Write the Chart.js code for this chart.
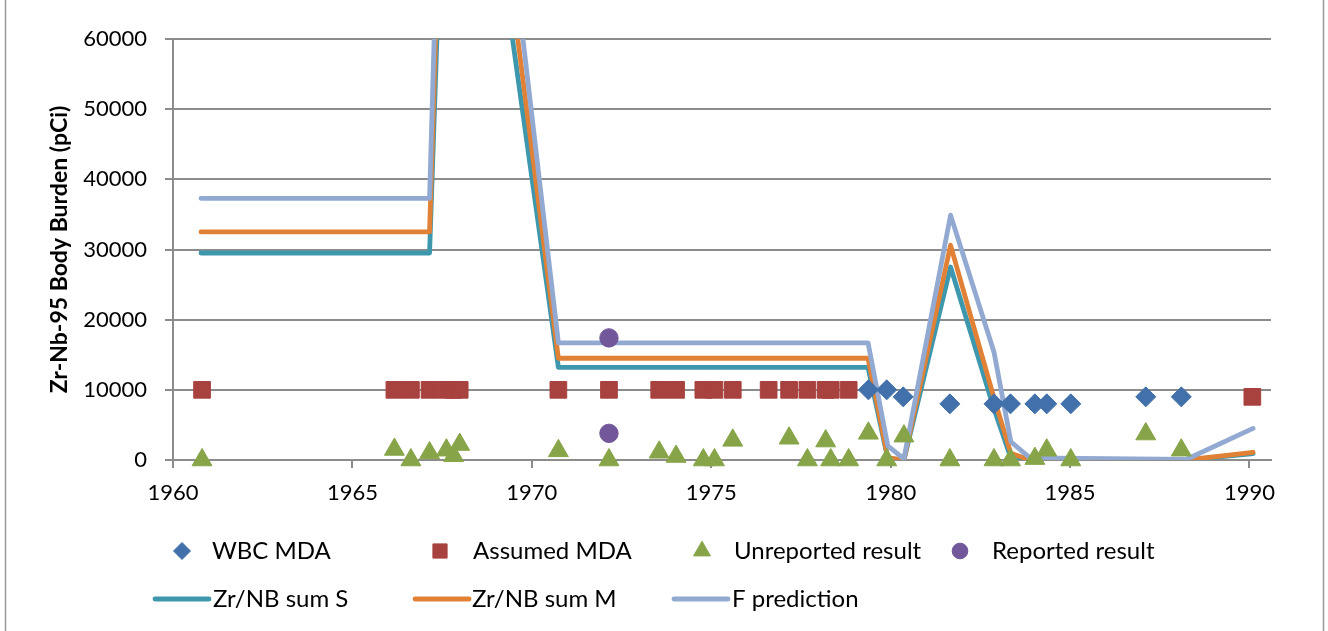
<!DOCTYPE html>
<html>
<head>
<meta charset="utf-8">
<script src="https://cdn.jsdelivr.net/npm/chart.js@4/dist/chart.umd.min.js"></script>
<style>
  html, body { margin: 0; padding: 0; background: #ffffff; }
  #wrap { width: 1328px; height: 631px; position: relative; }
</style>
</head>
<body>
<div id="wrap"><canvas id="chart" width="1328" height="631"></canvas></div>
<script>
// Zr-Nb-95 body burden: whole-body counting results and model curves, by year

// WBC minimum detectable activity
const wbcYears  = [1979.38, 1979.89, 1980.35, 1981.65, 1982.88, 1983.34, 1984.02, 1984.35, 1985.02, 1987.11, 1988.10];
const wbcValues = [10000, 10000, 9000, 8000, 8000, 8000, 8000, 8000, 8000, 9000, 9000];

// Assumed MDA
const assumedYears  = [1960.81, 1966.17, 1966.63, 1967.15, 1967.62, 1967.82, 1967.99, 1970.74, 1972.15, 1973.55,
                       1974.02, 1974.78, 1975.09, 1975.60, 1976.60, 1977.17, 1977.68, 1978.19, 1978.33, 1978.83, 1990.08];
const assumedValues = [10000, 10000, 10000, 10000, 10000, 10000, 10000, 10000, 10000, 10000,
                       10000, 10000, 10000, 10000, 10000, 10000, 10000, 10000, 10000, 10000, 9000];

// Unreported results
const unreportedYears  = [1960.81, 1966.17, 1966.63, 1967.15, 1967.62, 1967.82, 1967.99, 1970.74, 1972.15, 1973.55,
                          1974.02, 1974.78, 1975.09, 1975.60, 1977.17, 1977.68, 1978.19, 1978.33, 1978.83, 1979.38,
                          1979.89, 1980.37, 1981.65, 1982.88, 1983.34, 1984.02, 1984.35, 1985.02, 1987.11, 1988.10];
const unreportedValues = [0, 1500, 0, 1000, 1400, 600, 2200, 1300, 0, 1100,
                          500, 0, 0, 2800, 3100, 0, 2700, 0, 0, 3800,
                          0, 3400, 0, 0, 0, 200, 1400, 0, 3700, 1400];

// Reported results
const reportedYears  = [1972.15, 1972.15];
const reportedValues = [17400, 3800];

// Model curves
const curveYears  = [1960.78, 1967.15, 1967.77, 1970.74, 1979.37, 1979.92, 1980.37, 1981.67, 1982.88, 1983.35, 1983.88, 1988.25, 1990.10];
const sumSValues  = [29500, 29500, 122000, 13200, 13200, 200, 0, 27500, 7300, 300, 0, 0, 900];
const sumMValues  = [32500, 32500, 134000, 14500, 14500, 300, 0, 30600, 8850, 950, 0, 0, 1100];
const fPredValues = [37300, 37300, 147000, 16700, 16700, 2000, 150, 34900, 15400, 2600, 300, 100, 4500];

// Axis ticks
const xTickYears  = [1960, 1965, 1970, 1975, 1980, 1985, 1990];
const yTickValues = [0, 10000, 20000, 30000, 40000, 50000, 60000];

const toPoints = (xs, ys) => xs.map((x, i) => ({ x: x, y: ys[i] }));

const FONT = 'Lato, "Open Sans", sans-serif';
const GRID = '#8c8c8c';

function markerSet(label, xs, ys, style, radius, color, order) {
  return {
    label: label,
    data: toPoints(xs, ys),
    showLine: false,
    pointStyle: style,
    pointRadius: radius,
    pointBackgroundColor: color,
    pointBorderColor: color,
    pointBorderWidth: 1,
    backgroundColor: color,
    borderColor: color,
    order: order,
    clip: false
  };
}

function curveSet(label, ys, color, order) {
  return {
    label: label,
    data: toPoints(curveYears, ys),
    showLine: true,
    pointRadius: 0,
    borderColor: color,
    backgroundColor: color,
    borderWidth: 4.8,
    borderCapStyle: 'round',
    borderJoinStyle: 'round',
    tension: 0,
    order: order
  };
}

const datasets = [
  markerSet('WBC MDA', wbcYears, wbcValues, 'rectRot', 10, '#4170aa', 4),
  markerSet('Assumed MDA', assumedYears, assumedValues, 'rect', 11.8, '#a8423f', 3),
  markerSet('Unreported result', unreportedYears, unreportedValues, 'triangle', 11.5, '#87a548', 2),
  markerSet('Reported result', reportedYears, reportedValues, 'circle', 9.2, '#72579a', 1),
  curveSet('Zr/NB sum S', sumSValues, '#3d97ad', 7),
  curveSet('Zr/NB sum M', sumMValues, '#e08136', 6),
  curveSet('F prediction', fPredValues, '#92a9d1', 5)
];

// Two-row legend below the plot
const legendSlots = [
  { marker: 182, text: 212, row: 551 },
  { marker: 440, text: 473, row: 551 },
  { marker: 702, text: 734, row: 551 },
  { marker: 960, text: 992, row: 551 },
  { lineFrom: 155, lineTo: 209, text: 213, row: 599 },
  { lineFrom: 415, lineTo: 469, text: 472, row: 599 },
  { lineFrom: 674, lineTo: 728, text: 732, row: 599 }
];

const legendPlugin = {
  id: 'twoRowLegend',
  afterDraw(chart) {
    const ctx = chart.ctx;
    ctx.save();
    chart.data.datasets.forEach((ds, i) => {
      const slot = legendSlots[i];
      if (slot.lineFrom !== undefined) {
        ctx.strokeStyle = ds.borderColor;
        ctx.lineWidth = ds.borderWidth;
        ctx.lineCap = 'round';
        ctx.beginPath();
        ctx.moveTo(slot.lineFrom, slot.row);
        ctx.lineTo(slot.lineTo, slot.row);
        ctx.stroke();
      } else {
        ctx.fillStyle = ds.pointBackgroundColor;
        ctx.strokeStyle = ds.pointBorderColor;
        Chart.helpers.drawPoint(ctx, {
          pointStyle: ds.pointStyle,
          radius: ds.pointRadius * 0.85,
          rotation: 0,
          borderWidth: 1
        }, slot.marker, slot.row);
      }
      ctx.fillStyle = '#000000';
      ctx.font = '24px ' + FONT;
      ctx.textAlign = 'left';
      ctx.textBaseline = 'middle';
      ctx.fillText(ds.label, slot.text, slot.row);
    });
    ctx.restore();
  }
};

const framePlugin = {
  id: 'frame',
  beforeDraw(chart) {
    const ctx = chart.ctx;
    ctx.save();
    ctx.fillStyle = '#ffffff';
    ctx.fillRect(0, 0, chart.width, chart.height);
    ctx.restore();
  },
  afterDraw(chart) {
    const ctx = chart.ctx;
    ctx.save();
    ctx.strokeStyle = '#9a9a9a';
    ctx.lineWidth = 1.5;
    ctx.beginPath();
    ctx.moveTo(5.5, 0); ctx.lineTo(5.5, chart.height);
    ctx.moveTo(1323.5, 0); ctx.lineTo(1323.5, chart.height);
    ctx.stroke();
    ctx.restore();
  }
};

new Chart(document.getElementById('chart'), {
  type: 'scatter',
  data: { datasets: datasets },
  plugins: [framePlugin, legendPlugin],
  options: {
    responsive: false,
    animation: false,
    devicePixelRatio: 1,
    layout: { padding: { left: 0, right: 57, top: 39, bottom: 0 } },
    plugins: { legend: { display: false }, tooltip: { enabled: false } },
    scales: {
      x: {
        type: 'linear',
        min: 1960,
        max: 1990.6,
        afterFit(scale) { scale.height = 171; },
        afterBuildTicks(scale) { scale.ticks = xTickYears.map(v => ({ value: v })); },
        grid: { drawOnChartArea: false, drawTicks: true, tickLength: 8, color: GRID, lineWidth: 2 },
        border: { color: GRID, width: 2 },
        ticks: {
          padding: 12, color: '#000000', maxRotation: 0, autoSkip: false,
          font: { family: FONT, size: 22 },
          callback: v => String(v)
        }
      },
      y: {
        type: 'linear',
        min: 0,
        max: 60000,
        afterFit(scale) { scale.width = 173; },
        afterBuildTicks(scale) { scale.ticks = yTickValues.map(v => ({ value: v })); },
        grid: { color: GRID, lineWidth: 2, tickLength: 8 },
        border: { color: GRID, width: 2 },
        ticks: {
          padding: 18, color: '#000000',
          font: { family: FONT, size: 22 },
          callback: v => String(v)
        },
        title: {
          display: true,
          text: 'Zr-Nb-95 Body Burden (pCi)',
          color: '#000000',
          font: { family: FONT, size: 23, weight: 'bold' },
          padding: { top: 46, bottom: 0 }
        }
      }
    }
  }
});
</script>
</body>
</html>
